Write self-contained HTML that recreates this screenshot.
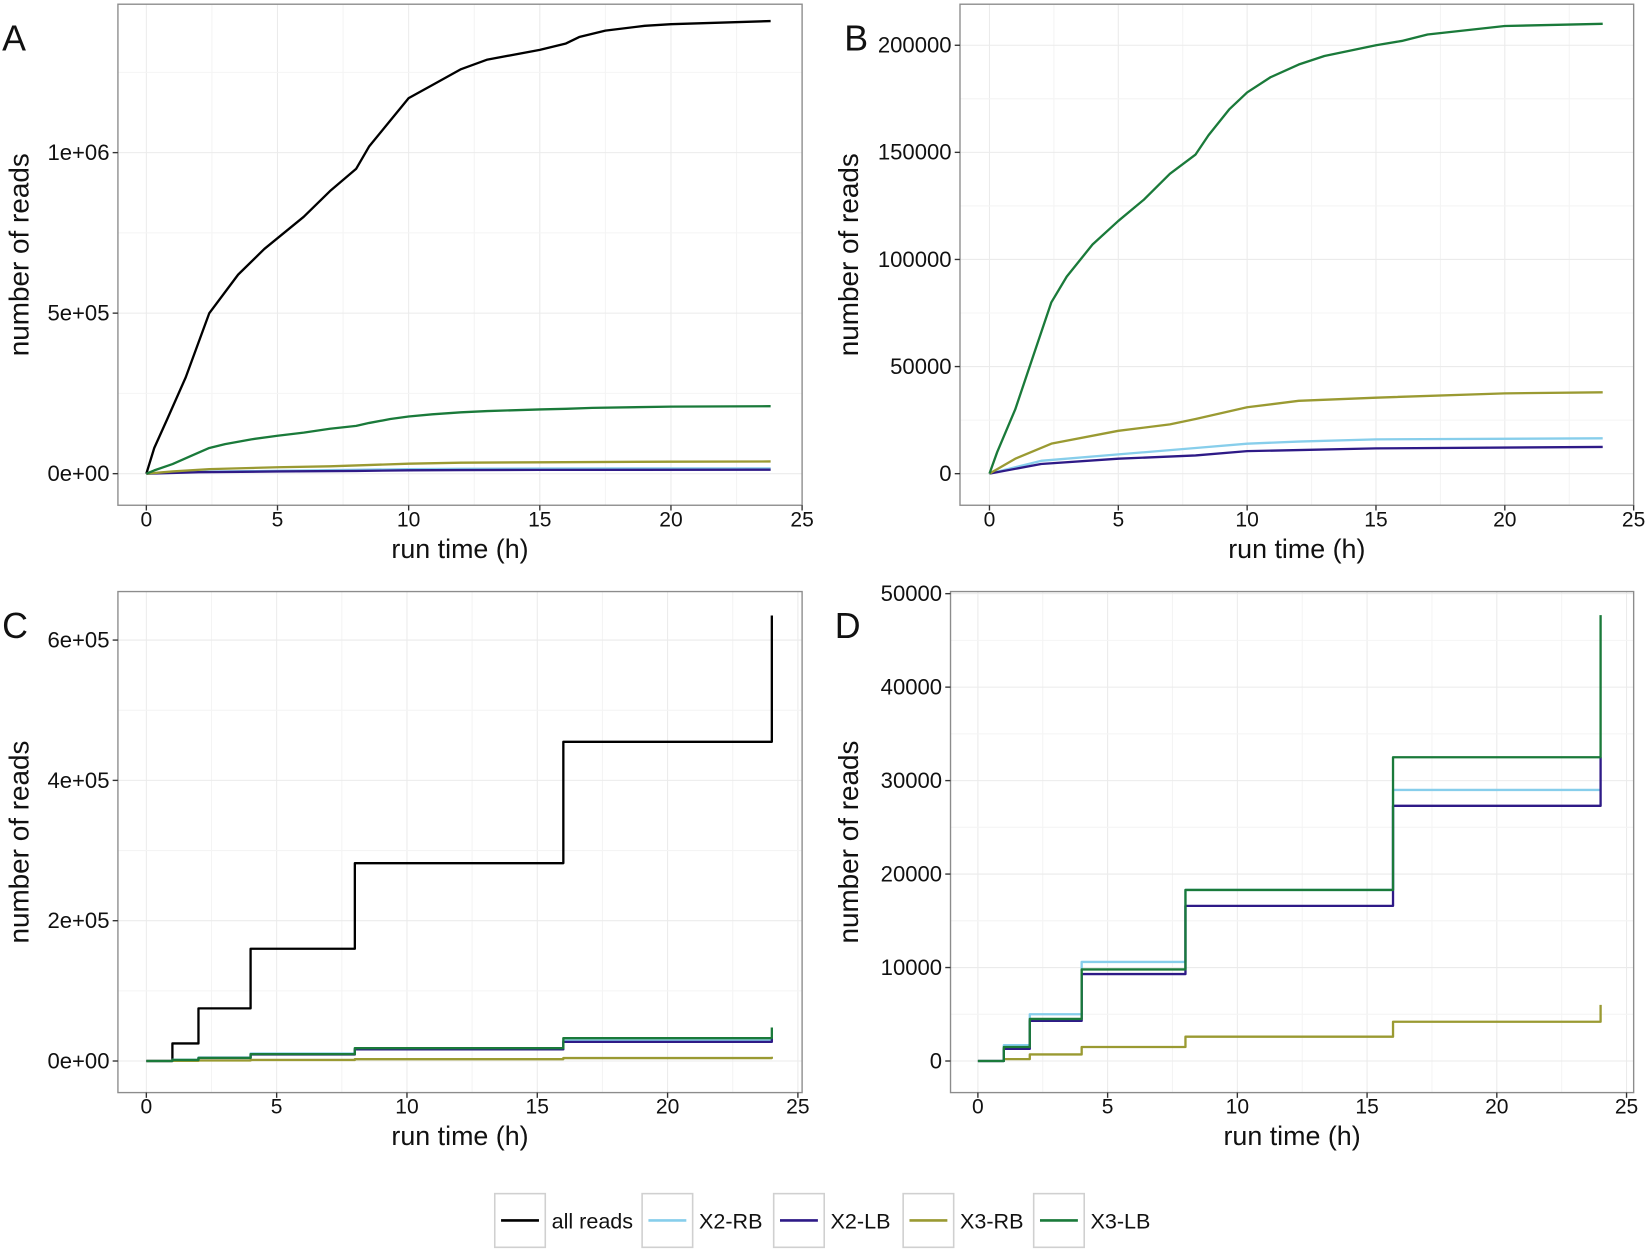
<!DOCTYPE html>
<html><head><meta charset="utf-8"><style>
html,body{margin:0;padding:0;background:#fff}
svg{display:block}
text{font-family:"Liberation Sans",Arial,sans-serif;fill:#111}
</style></head><body>
<svg id="s" width="1650" height="1251" viewBox="0 0 1567.5 1188.5" xmlns="http://www.w3.org/2000/svg"></svg>
<script>
const S=document.getElementById('s');let out='';
const C={all:'#000000',x2rb:'#87ceeb',x2lb:'#2e1a87',x3rb:'#9a9a32',x3lb:'#1a7a3a'};
function panel(o){
 const {L,R,T,B,x0,xs,y0,ys,yt,ylab,ytitleX,letter}=o;
 const X=t=>x0+t*xs, Y=v=>y0-v*ys;
 let g='';
 for(let t=-2.5;t<=27.5;t+=2.5){const x=X(t);if(x>L&&x<R)g+=`<line x1="${x}" y1="${T}" x2="${x}" y2="${B}" stroke="${(t%5==0)?'#ebebeb':'#f4f4f4'}" stroke-width="1"/>`;}
 const st=yt[1]-yt[0];
 for(let v=yt[0]-st*2;v<=yt[yt.length-1]+st*2;v+=st/2){const y=Y(v);if(y>T&&y<B)g+=`<line x1="${L}" y1="${y}" x2="${R}" y2="${y}" stroke="${(Math.round(v/st*2)%2==0)?'#ebebeb':'#f4f4f4'}" stroke-width="1"/>`;}
 out+=g;
 o.series.forEach(s=>{
  let d='';
  if(s.step){let p=s.pts;d=`M${X(p[0][0])},${Y(p[0][1])}`;for(let i=1;i<p.length;i++){d+=`H${X(p[i][0])}V${Y(p[i][1])}`;}}
  else d='M'+s.pts.map(p=>X(p[0]).toFixed(1)+','+Y(p[1]).toFixed(1)).join('L');
  out+=`<path d="${d}" fill="none" stroke="${s.c}" stroke-width="2.2" stroke-linejoin="round"/>`;
 });
 out+=`<rect x="${L}" y="${T}" width="${R-L}" height="${B-T}" fill="none" stroke="#8c8c8c" stroke-width="1.3"/>`;
 for(let t=0;t<=25;t+=5){const x=X(t);out+=`<line x1="${x}" y1="${B}" x2="${x}" y2="${B+5}" stroke="#333" stroke-width="1.3"/><text x="${x}" y="${B+20}" font-size="20" text-anchor="middle">${t}</text>`;}
 yt.forEach((v,i)=>{const y=Y(v);out+=`<line x1="${L-5}" y1="${y}" x2="${L}" y2="${y}" stroke="#333" stroke-width="1.3"/><text x="${L-8}" y="${y+7}" font-size="21" text-anchor="end">${ylab[i]}</text>`;});
 out+=`<text x="${(L+R)/2}" y="${B+50}" font-size="25.5" text-anchor="middle">run time (h)</text>`;
 out+=`<text transform="translate(${ytitleX},${(T+B)/2}) rotate(-90)" font-size="26.5" text-anchor="middle">number of reads</text>`;
 out+=`<text x="${L-110}" y="${T+44}" font-size="34">${letter}</text>`;
}
const sc=(a,f)=>a.map(p=>[p[0],p[1]*f]);
const blk=[[0,0],[0.3,.08],[0.8,.17],[1.5,.3],[2.4,.5],[3.5,.62],[4.5,.7],[6,.8],[7,.88],[8,.95],[8.5,1.02],[9.3,1.1],[10,1.17],[10.9,1.21],[12,1.26],[13,1.29],[15,1.32],[16,1.34],[16.5,1.36],[17.5,1.38],[19,1.395],[20,1.4],[23.8,1.41]];
const grn=[[0,0],[0.3,10],[1,30],[1.7,55],[2.4,80],[3,92],[4,107],[5,118],[6,128],[7,140],[8,149],[8.5,158],[9.3,170],[10,178],[10.9,185],[12,191],[13,195],[15,200],[16,202],[17,205],[20,209],[23.8,210]];
const yel=[[0,0],[1,7],[2.4,14],[5,20],[7,23],[8,25.5],[10,31],[12,34],[15,35.5],[20,37.5],[23.8,38]];
const lb=[[0,0],[2,6],[5,9],[8,12],[10,14],[12,15],[15,16],[23.8,16.5]];
const db=[[0,0],[2,4.5],[5,7],[8,8.5],[10,10.5],[12,11],[15,11.8],[23.8,12.5]];
panel({L:112,R:762,T:4,B:480,x0:139,xs:24.92,y0:450,ys:305e-6,yt:[0,5e5,1e6],ylab:['0e+00','5e+05','1e+06'],ytitleX:27,letter:'A',
 series:[{c:C.all,pts:sc(blk,1e6)},{c:C.x2rb,pts:sc(lb,1000)},{c:C.x2lb,pts:sc(db,1000)},{c:C.x3rb,pts:sc(yel,1000)},{c:C.x3lb,pts:sc(grn,1000)}]});
panel({L:912,R:1552,T:4,B:480,x0:940,xs:24.48,y0:450,ys:101.75/50,yt:[0,50,100,150,200],ylab:['0','50000','100000','150000','200000'],ytitleX:815,letter:'B',
 series:[{c:C.x2rb,pts:lb},{c:C.x2lb,pts:db},{c:C.x3rb,pts:yel},{c:C.x3lb,pts:grn}]});
const stp=(v)=>[[0,0],[1,v[0]],[2,v[1]],[4,v[2]],[8,v[3]],[16,v[4]],[24,v[5]],[24,v[6]]];
const sAll=stp([25,75,160,282,455,455,635]);
const sG=stp([1.5,4.5,9.8,18.3,32.5,32.5,47.7]),sL=stp([1.7,5,10.6,18.3,29,29,29]),sD=stp([1.3,4.3,9.3,16.6,27.3,27.3,32.5]),sY=stp([.2,.7,1.5,2.6,4.2,4.2,6]);
panel({L:112,R:762,T:562,B:1038,x0:139,xs:24.76,y0:1008,ys:133.3/200,yt:[0,200,400,600],ylab:['0e+00','2e+05','4e+05','6e+05'],ytitleX:27,letter:'C',
 series:[{c:C.all,pts:sAll,step:1},{c:C.x2rb,pts:sL,step:1},{c:C.x2lb,pts:sD,step:1},{c:C.x3rb,pts:sY,step:1},{c:C.x3lb,pts:sG,step:1}]});
panel({L:903,R:1552,T:562,B:1038,x0:929,xs:24.65,y0:1008,ys:8.88,yt:[0,10,20,30,40,50],ylab:['0','10000','20000','30000','40000','50000'],ytitleX:815,letter:'D',
 series:[{c:C.x3rb,pts:sY,step:1},{c:C.x2rb,pts:sL,step:1},{c:C.x2lb,pts:sD,step:1},{c:C.x3lb,pts:sG,step:1}]});
const leg=[[470,'all reads',C.all],[610,'X2-RB',C.x2rb],[735,'X2-LB',C.x2lb],[858,'X3-RB',C.x3rb],[982,'X3-LB',C.x3lb]];
leg.forEach(l=>{out+=`<rect x="${l[0]}" y="1134" width="48" height="51" fill="#fff" stroke="#d0d0d0" stroke-width="1.5"/><line x1="${l[0]+6}" y1="1159.5" x2="${l[0]+42}" y2="1159.5" stroke="${l[2]}" stroke-width="2.5"/><text x="${l[0]+54}" y="1167" font-size="20.5">${l[1]}</text>`;});
S.innerHTML=out;
</script>
</body></html>
